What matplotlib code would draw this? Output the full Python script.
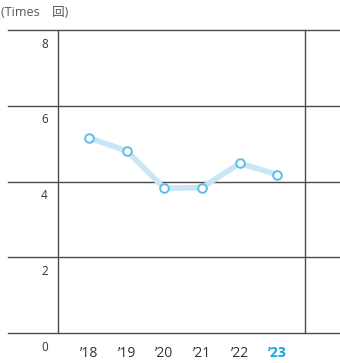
import matplotlib
matplotlib.use('Agg')
import matplotlib.pyplot as plt

# data
years = ['\u201918', '\u201919', '\u201920', '\u201921', '\u201922', '\u201923']
times = [5.15, 4.81, 3.82, 3.84, 4.48, 4.18]
yticks = [0, 2, 4, 6, 8]

W, H = 340, 363
fig = plt.figure(figsize=(W / 100, H / 100), dpi=100)
# axes box: x 58..305 px, y 30..333 px
ax = fig.add_axes([58 / W, 1 - 333 / H, (305 - 58) / W, (333 - 30) / H])

ax.set_xlim(-0.822, 5.73)
ax.set_ylim(0, 8)

grid_col = '#4a4a4a'
for v in yticks:
    ax.axhline(v, xmin=-50 / 247, xmax=282 / 247, color=grid_col, lw=1.0, clip_on=False)
    ax.text(-1.09, v - 0.37, str(v), ha='right', va='center', fontsize=8.5,
            color='#333333', family='Open Sans')

for s in ['top', 'bottom']:
    ax.spines[s].set_visible(False)
for s in ['left', 'right']:
    ax.spines[s].set_color(grid_col)
    ax.spines[s].set_linewidth(1.0)

ax.plot(range(len(times)), times, color='#c8e6f6', lw=4, solid_capstyle='round', zorder=2)
ax.plot(range(len(times)), times, 'o', ms=6.2, mfc='white', mec='#5cbde9', mew=1.4, zorder=3)

ax.set_xticks([])
ax.set_yticks([])

for i, lab in enumerate(years):
    last = i == len(years) - 1
    ax.text(i, -0.53, lab, ha='center', va='center', fontsize=10,
            color='#1aa3de' if last else '#333333',
            fontweight='bold' if last else 'normal', family='Open Sans')

fig.text(1 / W, 1 - 12 / H, '(Times\u2003回)', ha='left', va='center', fontsize=9,
         color='#555555', family=['Open Sans', 'Noto Sans CJK JP'])

fig.savefig('out.png', dpi=100)
